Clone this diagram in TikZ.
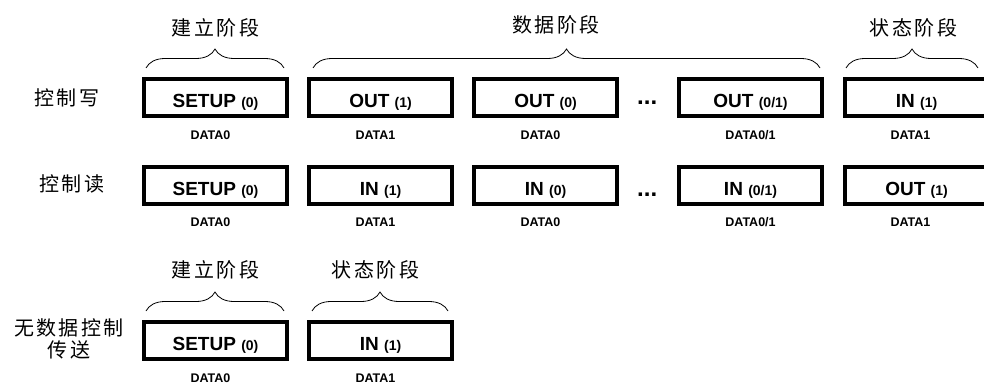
\documentclass[tikz,border=0pt]{standalone}
\usepackage{fontspec}
\setmainfont{Liberation Sans}
\newfontfamily\cjk[LetterSpace=12]{Noto Sans CJK SC}
\usetikzlibrary{positioning,decorations.pathreplacing}

\newcommand{\seqbit}[1]{{\fontsize{14}{14}\selectfont(#1)}}

\begin{document}
\begin{tikzpicture}[x=1pt,y=-1pt]

 \tikzstyle{pkt}=[draw=black,line width=4pt,fill=white,inner sep=0pt,
minimum width=143pt,minimum height=37pt,text height=20pt,text depth=0pt,
font=\bfseries\fontsize{19}{19}\selectfont]
 \tikzstyle{pid}=[inner sep=0pt,text height=9pt,text depth=0pt,
font=\bfseries\fontsize{12.5}{12.5}\selectfont]
 \tikzstyle{phase}=[inner sep=0pt,font=\cjk\fontsize{20}{22}\selectfont]
 \tikzstyle{stage}=[decorate,decoration={brace,amplitude=19pt},line width=0.8pt]
 \tikzstyle{dots}=[inner sep=0pt,text height=3pt,text depth=0pt,
font=\bfseries\fontsize{24}{24}\selectfont]

\clip (0,0) rectangle (984,385);
\fill[white] (0,0) rectangle (984,385);

% Control write
\node[phase] (lw) at (67,98) {控制写};
\node[pkt] (w1) at (215.5,97.5) {SETUP \seqbit{0}};
\node[pkt] (w2) [right=18pt of w1] {OUT \seqbit{1}};
\node[pkt] (w3) [right=18pt of w2] {OUT \seqbit{0}};
\node[pkt] (w4) [right=58pt of w3] {OUT \seqbit{0/1}};
\node[pkt] (w5) [right=19pt of w4] {IN \seqbit{1}};
\node[dots] (dw) [right=18pt of w3,yshift=-6pt] {...};

\node[pid] (pw1) [below=12pt of w1,xshift=-5pt] {DATA0};
\node[pid] (pw2) [below=12pt of w2,xshift=-5pt] {DATA1};
\node[pid] (pw3) [below=12pt of w3,xshift=-5pt] {DATA0};
\node[pid] (pw4) [below=12pt of w4] {DATA0/1};
\node[pid] (pw5) [below=12pt of w5,xshift=-6pt] {DATA1};

\draw[stage] ([shift={(4,-9)}]w1.north west) -- ([shift={(-5,-9)}]w1.north east);
\draw[stage] ([shift={(6,-9)}]w2.north west) -- ([shift={(-4,-9)}]w4.north east);
\draw[stage] ([shift={(3,-9)}]w5.north west) -- ([shift={(-12,-9)}]w5.north east);

\node[phase] (hw1) [above=40pt of w1] {建立阶段};
\node[phase] (hw2) at (556,25) {数据阶段};
\node[phase] (hw5) [above=40pt of w5,xshift=-3pt] {状态阶段};

% Control read
\node[phase] (lr) at (72,184) {控制读};
\node[pkt] (r1) at (215.5,185) {SETUP \seqbit{0}};
\node[pkt] (r2) [right=18pt of r1] {IN \seqbit{1}};
\node[pkt] (r3) [right=18pt of r2] {IN \seqbit{0}};
\node[pkt] (r4) [right=58pt of r3] {IN \seqbit{0/1}};
\node[pkt] (r5) [right=19pt of r4] {OUT \seqbit{1}};
\node[dots] (dr) [right=18pt of r3,yshift=-10pt] {...};

\node[pid] (pr1) [below=12pt of r1,xshift=-5pt] {DATA0};
\node[pid] (pr2) [below=12pt of r2,xshift=-5pt] {DATA1};
\node[pid] (pr3) [below=12pt of r3,xshift=-5pt] {DATA0};
\node[pid] (pr4) [below=12pt of r4] {DATA0/1};
\node[pid] (pr5) [below=12pt of r5,xshift=-6pt] {DATA1};

% No data control transfer
\node[phase,align=center] (ln) at (69,339) {无数据控制\\传送};
\node[pkt] (n1) at (215.5,340.5) {SETUP \seqbit{0}};
\node[pkt] (n2) [right=18pt of n1] {IN \seqbit{1}};

\node[pid] (pn1) [below=12pt of n1,xshift=-5pt] {DATA0};
\node[pid] (pn2) [below=12pt of n2,xshift=-5pt] {DATA1};

\draw[stage] ([shift={(4,-9)}]n1.north west) -- ([shift={(-5,-9)}]n1.north east);
\draw[stage] ([shift={(5,-9)}]n2.north west) -- ([shift={(-6,-9)}]n2.north east);

\node[phase] (hn1) [above=41pt of n1] {建立阶段};
\node[phase] (hn2) [above=41pt of n2,xshift=-5pt] {状态阶段};

\end{tikzpicture}
\end{document}
